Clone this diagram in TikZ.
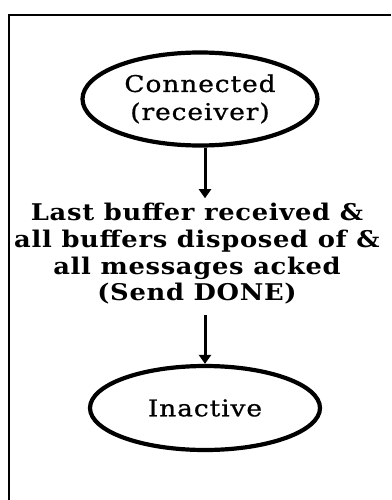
\documentclass[tikz,border=0pt]{standalone}
\usepackage{fontspec}
\setmainfont{DejaVu Serif}
\newfontfamily\statefont[FakeStretch=1.15,LetterSpace=4,FakeBold=0.8]{DejaVu Serif}
\newfontfamily\condfont[FakeStretch=1.12,LetterSpace=3]{DejaVu Serif}
\usetikzlibrary{shapes.geometric,arrows.meta}
\begin{document}
\begin{tikzpicture}[x=1pt,y=-1pt,
  state/.style={draw,line width=4.2pt,ellipse,inner sep=0pt,align=center,
    font=\statefont\fontsize{23}{28}\selectfont},
  cond/.style={align=center,inner sep=0pt,
    font=\condfont\fontsize{23}{26.7}\selectfont\bfseries},
  arr/.style={line width=3pt,-{Triangle[width=12pt,length=9pt]}},
  frame/.style={line width=2.8pt}]
\useasboundingbox (0,0) rectangle (391,500);
% open frame: top and left edges only
\draw[frame] (391,15) -- (9,15) -- (9,500);
% states
\node[state,minimum width=235pt,minimum height=93pt] (conn) at (200,99) {Connected\\(receiver)};
\node[state,minimum width=230pt,minimum height=84pt] (inact) at (205,408) {Inactive};
% transition condition
\node[cond] (trans) at (197,254) {Last buffer received \&\\all buffers disposed of \&\\all messages acked\\(Send DONE)};
\coordinate (ax) at (205,0);
\draw[arr] (conn.south -| ax) -- ([yshift=5pt]trans.north -| ax);
\draw[arr] ([yshift=-10pt]trans.south -| ax) -- (inact.north -| ax);
\end{tikzpicture}
\end{document}
